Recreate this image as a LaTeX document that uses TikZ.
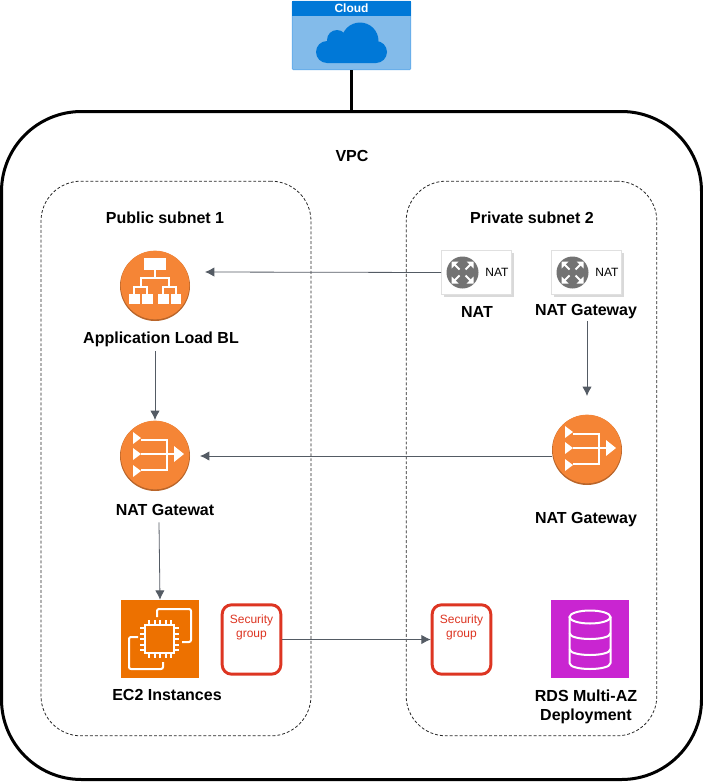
\documentclass[tikz,border=0pt]{standalone}
\usepackage{fontspec}
\setmainfont{Liberation Sans}
\usetikzlibrary{positioning,calc,arrows.meta,shadows}
\definecolor{awsorange}{HTML}{F58536}
\definecolor{awsdark}{HTML}{B9652A}
\definecolor{ectwo}{HTML}{ED7100}
\definecolor{rdspink}{HTML}{C925D1}
\definecolor{sgred}{HTML}{DD3522}
\definecolor{arrowgray}{HTML}{545B64}
\definecolor{cloudblue}{HTML}{0078D7}
\definecolor{cloudpale}{HTML}{83BBEA}
\definecolor{cloudedge}{HTML}{5EA9EA}
\definecolor{natgray}{HTML}{737373}
\tikzset{
  vpc/.style={rectangle,draw,line width=2.25pt,rounded corners=60pt,minimum width=525pt,minimum height=501pt,inner sep=0},
  subnet/.style={rectangle,draw=black!85,dash pattern=on 2.2pt off 1.5pt,line width=0.6pt,rounded corners=30pt,minimum height=416pt,inner sep=0},
  lab/.style={font=\fontsize{12}{14}\selectfont\bfseries,align=center,inner sep=0},
  arrow/.style={arrowgray,line width=0.6pt,-{Latex[length=7pt,width=7pt]}},
  natbox/.style={rectangle,draw=black!12,fill=white,line width=0.6pt,minimum width=52.5pt,minimum height=33pt,inner sep=0,drop shadow={shadow xshift=1.5pt,shadow yshift=-1.5pt,opacity=0.3}},
  nattext/.style={font=\fontsize{9}{10}\selectfont,inner sep=0},
  roundicon/.style={circle,fill=awsorange,minimum size=51.5pt,inner sep=0},
  roundback/.style={circle,fill=awsdark,minimum size=52.5pt,inner sep=0},
  sqicon/.style={rectangle,minimum size=58.5pt,inner sep=0},
  sgbox/.style={rectangle,draw=sgred,line width=2.2pt,fill=white,rounded corners=7pt,minimum width=44pt,minimum height=52pt,inner sep=0},
  sgtext/.style={text=sgred,font=\fontsize{9}{10.5}\selectfont,align=center,inner sep=0},
  wline/.style={draw=white,line width=1.5pt},
}

\begin{document}
\begin{tikzpicture}[x=0.75pt,y=-0.75pt]
  \useasboundingbox (0,0) rectangle (703,782);
  % outer boxes
  \node[vpc] (vpc) at (351.5,445.5) {};
  \node[subnet,minimum width=202.5pt] (pub) at (176,458.5) {};
  \node[subnet,minimum width=188pt] (priv) at (531.5,458.5) {};
  \node[lab] (vpclab) at (352,155.5) {VPC};
  \node[lab] (publab) at (165,217.5) {Public subnet 1};
  \node[lab] (privlab) at (532,217.5) {Private subnet 2};
  % the cloud on top
  \node[rectangle,draw=cloudedge,fill=cloudpale,line width=0.6pt,rounded corners=1pt,minimum width=89pt,minimum height=51.5pt,inner sep=0] (cloud) at (351.5,35.5) {};
  \fill[cloudblue] (292,1) rectangle (411,16);
  \node[text=white,font=\fontsize{9}{10}\selectfont\bfseries,inner sep=0] (cloudlab) at (351.5,8.5) {Cloud};
  \fill[cloudblue] (327,63) arc[start angle=90,end angle=270,radius=11] -- (328,41) -- (376,41) arc[start angle=-90,end angle=90,radius=11] -- cycle;
  \foreach \px/\py/\pr in {337/40/10,360/41/18.5,374/50/8} {
    \fill[cloudblue] (\px,\py) circle[radius=\pr];
  }
  \draw[line width=2.25pt] (cloud) -- (cloud |- vpc.north);
  % load balancer
  \node[roundback] (albb) at (155,286) {};
  \node[roundicon] (alb) at (155,285) {};
  \begin{scope}[shift={(155,286)}]
    \fill[white] (-11,-28) rectangle (11,-16);
    \draw[wline] (0,-16) -- (0,-8) (-14,1) -- (-14,-8) -- (14,-8) -- (14,1);
    \draw[wline] (-21,8) -- (-21,1) -- (-8,1) -- (-8,8) (8,8) -- (8,1) -- (21,1) -- (21,8);
    \foreach \bx in {-26,-13,3,15.5} {
      \fill[white] (\bx,8) rectangle ++(10.5,10);
    }
  \end{scope}
  \node[lab] (alblab) at (161,339.5) {Application Load BL};
  % the two nat gateways
  \foreach \gx/\gy/\gname in {155/456/gwa,587/450/gwb} {
    \node[roundback] (\gname b) at (\gx,\gy) {};
    \node[roundicon] (\gname) at (\gx,\gy-1) {};
    \begin{scope}[shift={(\gx,\gy)}]
      \foreach \ty in {-18,-2,15} {
        \fill[white] (-22,\ty-6) -- (-14,\ty) -- (-22,\ty+6) -- cycle;
      }
      \draw[wline] (-14,-16) -- (12,-16) -- (12,14) -- (-14,14);
      \draw[wline] (-14,-2) -- (20,-2);
      \fill[white] (19,-10) -- (29,-2) -- (19,6) -- cycle;
    \end{scope}
  }
  \node[lab] (gwalab) at (165,509.5) {NAT Gatewat};
  \node[lab] (gwblab) at (586,519.5) {NAT Gateway};
  % nat boxes
  \foreach \nx/\nname in {476.5/nata,586.5/natb} {
    \node[natbox] (\nname) at (\nx,272.5) {};
    \node[nattext] (\nname txt) at (\nx+20.5,272.5) {NAT};
    \fill[natgray] (\nx-14,272.5) circle[radius=16];
    \begin{scope}[shift={(\nx-14,272.5)}]
      \foreach \dx/\dy in {1/1,1/-1,-1/1,-1/-1} {
        \draw[white,line width=1.5pt] (\dx*3,\dy*3) -- (\dx*9,\dy*9);
        \fill[white] (\dx*11,\dy*11) -- (\dx*11,\dy*4) -- (\dx*4,\dy*11) -- cycle;
      }
    \end{scope}
  }
  \node[lab] (natalab) at (477,311.5) {NAT};
  \node[lab] (natblab) at (586,311.5) {NAT Gateway};
  % ec2
  \node[sqicon,fill=ectwo] (ec2) at (160,639) {};
  \begin{scope}[shift={(160,639)}]
    \draw[wline,rounded corners=1.5pt] (-3,-22) -- (-3,-30) -- (31,-30) -- (31,3) -- (22,3);
    \draw[wline,rounded corners=1.5pt] (3,23) -- (3,30) -- (-31,30) -- (-31,-2) -- (-22,-2);
    \draw[wline] (-15,-14) rectangle (14,14);
    \foreach \pin in {-11,-5.5,0,5.5,11} {
      \draw[wline] (\pin,-14) -- (\pin,-19) (\pin,14) -- (\pin,19) (-15,\pin) -- (-20,\pin) (14,\pin) -- (19,\pin);
    }
  \end{scope}
  \node[lab] (ec2lab) at (167,694.5) {EC2 Instances};
  % security groups
  \node[sgbox] (sga) at (251.5,639.5) {};
  \node[sgbox] (sgb) at (461.5,639.5) {};
  \node[sgtext,below=8.5pt of sga.north] (sgatxt) {Security\\group};
  \node[sgtext,below=8.5pt of sgb.north] (sgbtxt) {Security\\group};
  % rds
  \node[sqicon,fill=rdspink] (rds) at (590,639) {};
  \begin{scope}[shift={(590,639)}]
    \draw[wline] (0,-22) ellipse[x radius=20.5,y radius=6.5];
    \draw[wline] (-20.5,-22) -- (-20.5,24) .. controls (-20.5,32) and (20.5,32) .. (20.5,24) -- (20.5,-22);
    \draw[wline] (-20.5,-6) .. controls (-20.5,2) and (20.5,2) .. (20.5,-6);
    \draw[wline] (-20.5,10) .. controls (-20.5,18) and (20.5,18) .. (20.5,10);
  \end{scope}
  \node[lab] (rdslab) at (586,707) {RDS Multi-AZ\\Deployment};
  % free arrow ends
  \coordinate (albin) at (205,272);
  \coordinate (gwain) at (200,456);
  \draw[arrow] (nata.west) -- (albin);
  \draw[arrow] (gwb.west |- gwain) -- (gwain);
  \draw[arrow] (alblab.south -| 155,0) ++(0,4) -- (alb.north |- 0,420);
  \draw[arrow] (natblab.south) ++(1,2) -- (587,396);
  \draw[arrow] (gwalab.south -| 159,0) ++(0,7) -- (ec2.north -| 160,0);
  \draw[arrow] (sga.east) -- (sgb.west);
\end{tikzpicture}
\end{document}
